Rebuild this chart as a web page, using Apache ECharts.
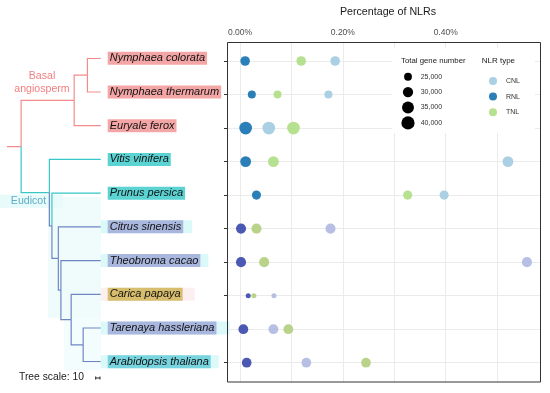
<!DOCTYPE html>
<html><head><meta charset="utf-8">
<script src="https://cdn.jsdelivr.net/npm/echarts@6/dist/echarts.min.js"></script>
<style>html,body{margin:0;padding:0;background:#fff}#c{width:550px;height:393px}</style>
</head><body><div id="c"></div>
<script>
// ---------------- data ----------------
const species = ['Nymphaea colorata','Nymphaea thermarum','Euryale ferox','Vitis vinifera','Prunus persica','Citrus sinensis','Theobroma cacao','Carica papaya','Tarenaya hassleriana','Arabidopsis thaliana'];
const nlrTypes = ['CNL','RNL','TNL'];
// percentage of NLRs (in %)
const cnlPct = [0.185,0.172,0.056,0.521,0.397,0.176,0.558,0.066,0.065,0.129];
const rnlPct = [0.010,0.023,0.011,0.011,0.032,0.002,0.002,0.016,0.0065,0.013];
const tnlPct = [0.119,0.073,0.104,0.065,0.326,0.032,0.047,0.027,0.094,0.245];
const geneNumber = [28300,25200,38000,31500,27200,29500,29500,22900,28800,28500];
const sizeLegendValues = [25000,30000,35000,40000];
const xLabelValues = [0, 0.2, 0.4];
// tree (ages in Myr)
const nodeNames = ['root','basal','nymphaea','eudicot','rosid','n3','n4','brassicales','cleome'];
const nodeAges = [186,62,31,120,114,99,93,69,41];
const nodeParents = [null,'root','basal','root','eudicot','rosid','n3','n4','brassicales'];
const leafParents = ['nymphaea','nymphaea','basal','eudicot','rosid','n3','n4','brassicales','cleome','cleome'];
const rootStubAge = 219;
const treeScaleLength = 10;

// ---------------- styles ----------------
const FONT = '"Liberation Sans", Arial, Helvetica, sans-serif';
const PINK = '#f28c8c', CYAN = '#36c8c8', BLUE = '#6f86c4';
const leafLineColor = [PINK,PINK,PINK,CYAN,CYAN,BLUE,BLUE,BLUE,BLUE,BLUE];
const nodeLineColor = {root:PINK, basal:PINK, nymphaea:PINK, eudicot:CYAN, rosid:BLUE, n3:BLUE, n4:BLUE, brassicales:BLUE, cleome:BLUE};
const boxStyleKey = ['pink','pink','pink','cyan','cyan','lav','lav','tan','lav','cyanb'];
const haloColor = [null,null,null,null,null,'#dcf9fa','#dcf9fa','#fcefef','#dcf9fa','#dcf9fa'];
const haloRight = [0,0,0,0,0,9,8,12,13,8];
const typeColors = {CNL:'#a6cee3', RNL:'#1f78b4', TNL:'#b2df8a'};
const typeColorsLower = {CNL:'#b3bce3', RNL:'#4150b0', TNL:'#b6d184'};

// ---------------- tree geometry ----------------
const nodeY = {};
function yOf(name){
  const li = [];
  leafParents.forEach((p,i)=>{ if(p===name) li.push(i); });
  nodeParents.forEach((p,i)=>{ if(p===name) li.push(yOf(nodeNames[i])); });
  const y = (Math.min(...li)+Math.max(...li))/2;
  nodeY[name]=y; return y;
}
yOf('root');
const ageOf = n => nodeAges[nodeNames.indexOf(n)];
const treeLines = [];
leafParents.forEach((p,i)=>{
  treeLines.push({coords:[[ageOf(p),nodeY[p]],[ageOf(p),i],[0,i]], lineStyle:{color:leafLineColor[i]}});
});
nodeParents.forEach((p,i)=>{
  if(!p) return; const n=nodeNames[i];
  treeLines.push({coords:[[ageOf(p),nodeY[p]],[ageOf(p),nodeY[n]],[ageOf(n),nodeY[n]]], lineStyle:{color:nodeLineColor[n]}});
});
treeLines.push({coords:[[rootStubAge,nodeY.root],[ageOf('root'),nodeY.root]], lineStyle:{color:PINK}});

// ---------------- sizes ----------------
const gMin = Math.min(...geneNumber), gMax = Math.max(...geneNumber);
const sizeOf = g => 5 + 7.7*Math.sqrt(Math.max(0,(g-gMin)/(gMax-gMin)));

const pctByType = {CNL:cnlPct, RNL:rnlPct, TNL:tnlPct};
const scatterSeries = nlrTypes.map(t=>({
  name:t, type:'scatter', xAxisIndex:1, yAxisIndex:1, z:5,
  itemStyle:{color:typeColors[t], opacity:0.95},
  data: species.map((s,i)=>({value:[pctByType[t][i], s], symbolSize:sizeOf(geneNumber[i]),
     itemStyle:{color: i>=5 ? typeColorsLower[t] : typeColors[t]}}))
}));

const X_MIN = -0.02528, X_MAX = 0.5834;
const chart = echarts.init(document.getElementById('c'), null, {renderer:'canvas'});

const labelRich = {
  pink:{backgroundColor:'#f4a6a6'}, cyan:{backgroundColor:'#5cd3d3'}, lav:{backgroundColor:'#a9b7de'},
  tan:{backgroundColor:'#d7be6e'}, cyanb:{backgroundColor:'#78d4df'}
};
Object.values(labelRich).forEach(r=>Object.assign(r,{fontFamily:FONT,fontStyle:'italic',fontSize:11,color:'#111',padding:[1,2,1,2],lineHeight:11}));

const option = {
  animation:false,
  textStyle:{fontFamily:FONT},
  grid:[
    {left:227, right:10, top:42, bottom:11, show:false},
    {left:227, right:10, top:61, bottom:30.3, show:false},
    {left:7, right:449.3, top:58.3, bottom:31.3, show:false}
  ],
  xAxis:[
    {gridIndex:0, type:'value', position:'top', min:X_MIN, max:X_MAX, splitNumber:6,
     axisLine:{show:false, onZero:false}, axisTick:{show:false},
     axisLabel:{margin:5, fontSize:8.5, color:'#4d4d4d', fontFamily:FONT, showMinLabel:false, showMaxLabel:false,
       formatter:v=> xLabelValues.some(x=>Math.abs(x-v)<1e-9) ? v.toFixed(2)+'%' : ''},
     splitLine:{show:true, lineStyle:{color:'#ebebeb', width:1}}},
    {gridIndex:1, type:'value', min:X_MIN, max:X_MAX, show:false, axisLine:{onZero:false}},
    {gridIndex:2, type:'value', inverse:true, min:0, max:rootStubAge, show:false, axisLine:{onZero:false}}
  ],
  yAxis:[
    {gridIndex:0, type:'value', min:0, max:1, show:false, axisLine:{onZero:false}},
    {gridIndex:1, type:'category', inverse:true, boundaryGap:false, data:species,
     axisLine:{show:false, onZero:false}, axisLabel:{show:false, interval:0},
     axisTick:{show:true, length:3, interval:0, lineStyle:{color:'#333'}},
     splitLine:{show:true, interval:0, lineStyle:{color:'#ebebeb', width:1}}},
    {gridIndex:2, type:'value', inverse:true, min:0, max:species.length-1, show:false, axisLine:{onZero:false}},
    {gridIndex:2, type:'category', inverse:true, boundaryGap:false, position:'right',
     data: species.map((s,i)=>({value:s, textStyle:{backgroundColor: haloColor[i]||'transparent', padding:[1,haloRight[i],1,7]}})),
     axisLine:{show:false, onZero:false}, axisTick:{show:false}, splitLine:{show:false},
     axisLabel:{margin:0, interval:0, formatter:(v)=>{const i=species.indexOf(v); return '{'+boxStyleKey[i]+'|'+v+'}';}, rich:labelRich}}
  ],
  legend:{data:nlrTypes, orient:'vertical', left:484, top:72, itemWidth:8, itemHeight:8, itemGap:7.6, icon:'circle',
    textStyle:{fontSize:7, color:'#333', fontFamily:FONT, padding:[0,0,0,4], lineHeight:8}},
  series:[
    ...scatterSeries,
    {type:'lines', coordinateSystem:'cartesian2d', xAxisIndex:2, yAxisIndex:2, polyline:true, z:3,
     lineStyle:{width:1.2, opacity:1}, data:treeLines, silent:true}
  ]
};
chart.setOption(option);

// ---------- decorations / annotations ----------
const g = [];
g.push({type:'rect', shape:{x:392, y:48, width:143, height:85}, style:{fill:'#fff'}, z:1});
g.push({type:'rect', shape:{x:227.5, y:42.5, width:313, height:339.5}, style:{fill:'none', stroke:'#333', lineWidth:1}, z:10});
g.push({type:'text', x:388, y:12.3, style:{text:'Percentage of NLRs', fontSize:10.7, fill:'#1a1a1a', fontFamily:FONT, align:'center', verticalAlign:'middle'}, z:10});
g.push({type:'text', x:401, y:60.7, style:{text:'Total gene number', fontSize:7.8, fill:'#1a1a1a', fontFamily:FONT, verticalAlign:'middle'}, z:10});
g.push({type:'text', x:481.7, y:60.7, style:{text:'NLR type', fontSize:8, fill:'#1a1a1a', fontFamily:FONT, verticalAlign:'middle'}, z:10});
sizeLegendValues.forEach((v,k)=>{
  const cy = 76.7 + k*15.4;
  g.push({type:'circle', shape:{cx:408, cy:cy, r:sizeOf(v)/2}, style:{fill:'#000'}, z:10});
  g.push({type:'text', x:420.7, y:cy, style:{text:v.toLocaleString('en-US'), fontSize:7, fill:'#333', fontFamily:FONT, verticalAlign:'middle'}, z:10});
});
// tree annotations
g.push({type:'rect', shape:{x:48, y:197, width:53, height:121}, style:{fill:'#f0fcfc'}, z:0});
g.push({type:'rect', shape:{x:64, y:318, width:37, height:52}, style:{fill:'#f4fdfd'}, z:0});
g.push({type:'rect', shape:{x:0, y:194.5, width:63, height:13.5}, style:{fill:'#e9fafa'}, z:0});
g.push({type:'text', x:42, y:82.7, style:{text:'Basal\nangiosperm', fontSize:10.6, lineHeight:13.3, fill:'#f07f7f', fontFamily:FONT, align:'center', verticalAlign:'middle'}, z:10});
g.push({type:'text', x:28.5, y:201, style:{text:'Eudicot', fontSize:10.6, fill:'#5aaec8', fontFamily:FONT, align:'center', verticalAlign:'middle'}, z:10});
g.push({type:'text', x:19, y:377.3, style:{text:'Tree scale: ' + treeScaleLength, fontSize:10.3, fill:'#222', fontFamily:FONT, verticalAlign:'middle'}, z:10});
const p0 = chart.convertToPixel({xAxisIndex:2}, 0), p1 = chart.convertToPixel({xAxisIndex:2}, treeScaleLength);
const sx = 95.7, sw = Math.abs(p0-p1), sy = 378;
g.push({type:'polyline', shape:{points:[[sx,sy],[sx+sw,sy]]}, style:{stroke:'#222', lineWidth:1}, z:10});
g.push({type:'polyline', shape:{points:[[sx,sy-1.5],[sx,sy+1.5]]}, style:{stroke:'#222', lineWidth:1}, z:10});
g.push({type:'polyline', shape:{points:[[sx+sw,sy-1.5],[sx+sw,sy+1.5]]}, style:{stroke:'#222', lineWidth:1}, z:10});
chart.setOption({graphic:g});
</script></body></html>
